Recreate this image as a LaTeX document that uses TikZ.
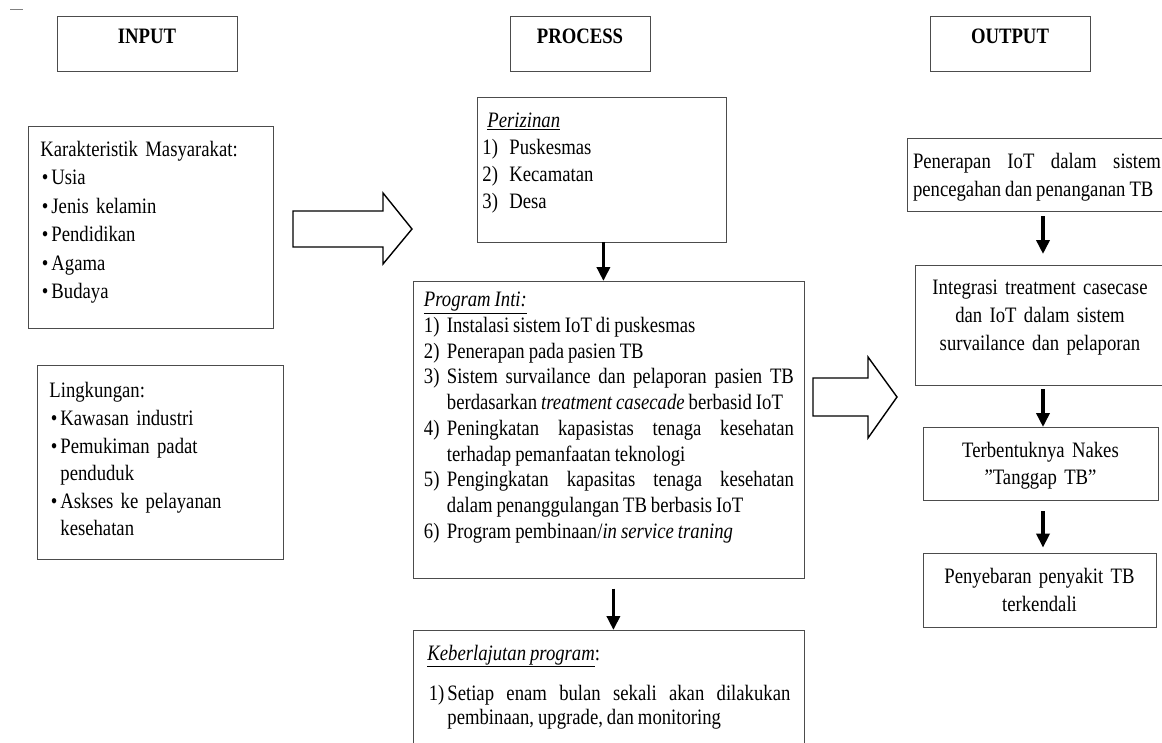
\documentclass[tikz,border=0pt]{standalone}
\usepackage{fontspec}
\setmainfont{Liberation Serif}[FakeStretch=0.85,WordSpace=0.85]
\usetikzlibrary{arrows.meta}
\newcommand\butir{\hspace*{1.5pt}\textbullet\hspace{3pt}}
\newcommand\nomor[2]{\par\noindent\hangindent=#1\hangafter=1\makebox[#1][l]{#2}}
\newcommand\sisa[1]{\par\nointerlineskip\vspace{#1}\null}

\begin{document}
\begin{tikzpicture}[x=1pt,y=-1pt,
  kotak/.style={draw=black!70,line width=0.8pt,anchor=north west,align=left,
    font=\fontsize{22}{26}\selectfont},
  judul/.style={draw=black!70,line width=0.8pt,inner sep=0pt,text height=27pt,
    text depth=28pt,anchor=base,font=\fontsize{22}{24}\selectfont\bfseries},
  hasil/.style={draw=black!70,line width=0.8pt,align=center,inner ysep=0pt,
    inner xsep=6pt,font=\fontsize{22}{28}\selectfont},
  panah/.style={line width=3.5pt,-{Triangle[width=13pt,length=14pt]}},
  blok/.style={draw,line width=1.4pt,line join=miter}]
\clip (0,0) rectangle (1162,742);

\draw[black!50,line width=0.8pt] (10,9) -- (23,9);

\node[judul,minimum width=180pt] (input) at (147,43) {INPUT};
\node[judul,minimum width=140pt] (process) at (580,43) {PROCESS};
\node[judul,minimum width=160pt] (output) at (1010,43) {OUTPUT};

% input
\node[kotak,inner xsep=12pt,inner ysep=14.8pt,text width=221pt,
  font=\fontsize{22}{28.4}\selectfont] (karakter) at (28,126)
  {Karakteristik Masyarakat:\\ \butir Usia\\ \butir Jenis kelamin\\
   \butir Pendidikan\\ \butir Agama\\ \butir Budaya\sisa{10.6pt}};
\node[kotak,inner xsep=12pt,inner ysep=17.3pt,text width=222pt,
  font=\fontsize{22}{27.6}\selectfont] (lingkungan) at (37,365)
  {Lingkungan:\\ \butir Kawasan industri\\ \butir Pemukiman padat\\
   \hspace*{11pt}penduduk\\ \butir Askses ke pelayanan\\
   \hspace*{11pt}kesehatan\sisa{6.4pt}};

\draw[blok] (293,211) -- (383,211) -- (383,193) -- (412,229) -- (383,264)
  -- (383,247) -- (293,247) -- cycle;

% process
\node[kotak,inner xsep=5pt,inner ysep=15.7pt,text width=239pt,
  font=\fontsize{22}{27}\selectfont] (perizinan) at (477,97)
  {\hspace*{5pt}\underline{\textit{Perizinan}}\\ \makebox[27pt][l]{1)}Puskesmas\\
   \makebox[27pt][l]{2)}Kecamatan\\ \makebox[27pt][l]{3)}Desa\sisa{13pt}};
\node[kotak,inner xsep=10.5pt,inner ysep=10.9pt,text width=370pt,align=justify,
  font=\fontsize{22}{25.7}\selectfont] (inti) at (413,281)
  {\noindent\underline{\textit{Program Inti:}}
   \nomor{23pt}{1)}Instalasi sistem IoT di puskesmas
   \nomor{23pt}{2)}Penerapan pada pasien TB
   \nomor{23pt}{3)}Sistem survailance dan pelaporan pasien TB\linebreak
     berdasarkan \textit{treatment casecade} berbasid IoT
   \nomor{23pt}{4)}Peningkatan kapasistas tenaga kesehatan\linebreak
     terhadap pemanfaatan teknologi
   \nomor{23pt}{5)}Pengingkatan kapasitas tenaga kesehatan\linebreak
     dalam penanggulangan TB berbasis IoT
   \nomor{23pt}{6)}Program pembinaan/\textit{in service traning}\sisa{24.5pt}};
\node[kotak,inner xsep=14pt,inner ysep=14.5pt,text width=363pt,align=justify,
  font=\fontsize{22}{24}\selectfont] (keber) at (413,630)
  {\noindent\underline{\textit{Keberlajutan program}}:\par\vspace{16pt}
   \nomor{20pt}{\makebox[17pt][r]{1)}}Setiap enam bulan sekali akan dilakukan\linebreak
     pembinaan, upgrade, dan monitoring\sisa{60pt}};

\draw[panah] ([xshift=1.5pt]perizinan.south) -- ([xshift=-5.5pt]inti.north);
\draw[panah] ([xshift=4.5pt,yshift=-10pt]inti.south) -- ([xshift=4.5pt]keber.north);

\draw[blok] (813,378) -- (868,378) -- (868,357) -- (897,397) -- (868,438)
  -- (868,416) -- (813,416) -- cycle;

% output
\node[hasil,text width=248pt,align=justify,inner ysep=14.6pt,anchor=north] (penerapan)
  at (1037,138) {Penerapan IoT dalam sistem\linebreak pencegahan dan penanganan TB\sisa{-4pt}};
\node[hasil,text width=238pt,inner ysep=15pt,anchor=north] (integrasi) at (1040,265)
  {Integrasi treatment casecase\\ dan IoT dalam sistem\\ survailance dan pelaporan\sisa{15.2pt}};
\node[hasil,text width=223pt,inner ysep=14.6pt,anchor=north,
  font=\fontsize{22}{27}\selectfont] (terbentuk) at (1040.5,427)
  {Terbentuknya Nakes\\ ”Tanggap TB”\sisa{-3pt}};
\node[hasil,text width=221pt,minimum height=74pt] (penyebaran) at (1039.5,590)
  {Penyebaran penyakit TB\\ terkendali};

\draw[panah] ([xshift=6pt,yshift=-4pt]penerapan.south) -- ([xshift=3pt,yshift=11pt]integrasi.north);
\draw[panah] ([xshift=3pt,yshift=-3pt]integrasi.south) -- ([xshift=2.5pt]terbentuk.north);
\draw[panah] ([xshift=2.5pt,yshift=-10pt]terbentuk.south) -- ([xshift=3.5pt,yshift=5pt]penyebaran.north);
\end{tikzpicture}
\end{document}
